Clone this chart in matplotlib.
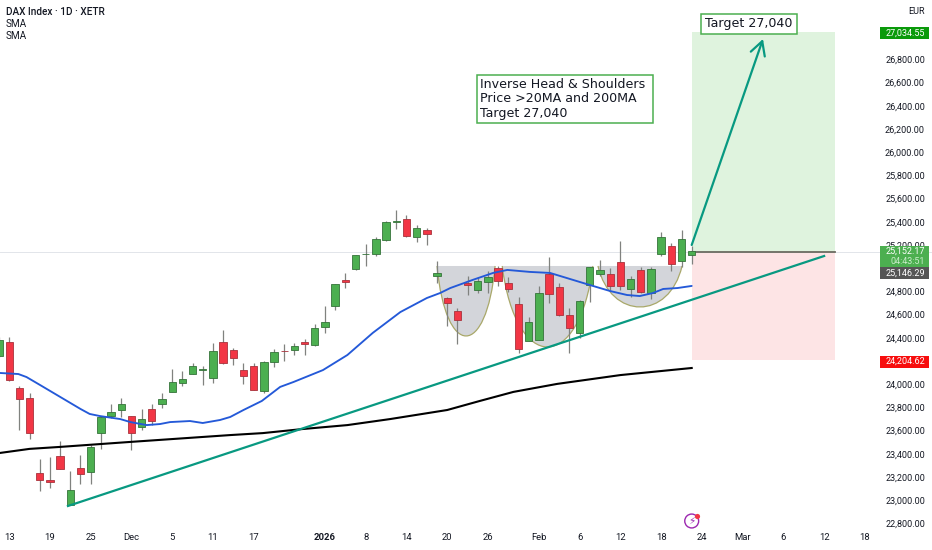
"""DAX daily candles with an inverse head and shoulders and a long position drawing."""

import matplotlib

matplotlib.use("Agg")
import matplotlib.pyplot as plt
import numpy as np
from matplotlib.patches import PathPatch, Rectangle
from matplotlib.path import Path
from matplotlib.transforms import Affine2D

OPEN = [24244, 24365, 23969, 23882, 23235, 23174, 23382, 22960, 23278, 23243,
        23579, 23726, 23778, 23726, 23631, 23787, 23830, 23934, 24012, 24088,
        24127, 24053, 24365, 24296, 24122, 24157, 23943, 24192, 24290, 24296,
        24365, 24339, 24494, 24674, 24899, 24994, 25118, 25122, 25243, 25402,
        25425, 25269, 25330, 24933, 24743, 24630, 24873, 24812, 24881, 25001,
        24873, 24691, 24374, 24382, 24951, 24838, 24596, 24443, 24855, 24951,
        24951, 25053, 24821, 24985, 24786, 25122, 25191, 25061, 25113]
HIGH = [24408, 24408, 23986, 23925, 23356, 23373, 23512, 23252, 23391, 23477,
        23726, 23830, 23882, 23726, 23787, 23830, 23925, 24131, 24114, 24183,
        24157, 24356, 24469, 24313, 24183, 24183, 24200, 24304, 24348, 24356,
        24391, 24517, 24674, 24864, 24959, 25113, 25208, 25269, 25408, 25503,
        25460, 25373, 25347, 25061, 24751, 24656, 24933, 24925, 24977, 25018,
        24925, 24751, 24578, 24847, 25096, 24873, 24656, 24726, 25009, 25070,
        25001, 25234, 24933, 25009, 25009, 25312, 25217, 25330, 25191]
LOW = [24235, 24027, 23605, 23527, 23079, 23105, 23269, 22960, 23139, 23139,
       23443, 23709, 23718, 23434, 23605, 23648, 23796, 23934, 23986, 24088,
       23995, 24012, 24175, 24166, 24003, 23951, 23925, 24148, 24200, 24252,
       24252, 24330, 24443, 24639, 24829, 24985, 25018, 25105, 25234, 25338,
       25269, 25226, 25200, 24873, 24500, 24348, 24769, 24786, 24786, 24847,
       24795, 24270, 24374, 24382, 24700, 24587, 24270, 24400, 24708, 24933,
       24812, 24812, 24751, 24786, 24734, 25105, 24977, 25009, 25035]
CLOSE = [24382, 24036, 23873, 23579, 23174, 23157, 23269, 23088, 23226, 23460,
         23718, 23761, 23830, 23579, 23700, 23683, 23873, 24019, 24045, 24157,
         24131, 24287, 24183, 24226, 24071, 23951, 24192, 24278, 24283, 24330,
         24348, 24486, 24535, 24864, 24881, 25113, 25122, 25252, 25399, 25408,
         25278, 25347, 25295, 24959, 24700, 24552, 24855, 24890, 24925, 24890,
         24821, 24304, 24535, 24786, 24777, 24596, 24486, 24717, 25009, 24985,
         24847, 24847, 24907, 24795, 24994, 25269, 25035, 25252, 25148]

SMA20_BAR = [0.1, 1.9, 2.7, 4.0, 6.0, 8.0, 8.9, 9.9, 11.9, 12.9, 14.5, 15.8, 16.8,
             18.75, 20.0, 21.7, 22.7, 24.0, 25.8, 27.6, 28.9, 31.8, 34.2, 36.7,
             39.4, 42.0, 43.3, 44.3, 46.5, 48.5, 49.9, 52.1, 54.1, 56.05, 58.0,
             60.0, 61.65, 62.9, 64.2, 65.2, 66.6, 68.0]
SMA20 = [24097, 24088, 24062, 23995, 23891, 23787, 23744, 23726, 23700, 23674,
         23648, 23657, 23674, 23683, 23666, 23692, 23718, 23778, 23856, 23977,
         24019, 24122, 24252, 24443, 24622, 24743, 24786, 24829, 24899, 24959,
         24985, 24968, 24959, 24907, 24855, 24803, 24769, 24760, 24786, 24821,
         24829, 24847]

SMA200_BAR = [0.1, 3.0, 6.0, 12.9, 22.7, 25.9, 29.8, 34.2, 38.4, 44.0, 47.2, 50.5,
              54.8, 61.0, 68.0]
SMA200 = [23408, 23443, 23460, 23503, 23562, 23579, 23614, 23648, 23700, 23778,
          23856, 23934, 24003, 24079, 24140]

TREND_BAR = [6.77, 81.0]
TREND_PRICE = [22951, 25105]
ARROW_BAR = [68.0, 75.0]
ARROW_PRICE = [25200, 26975]

# neckline price, then (start bar, lowest price, end bar) for each trough
NECKLINE = 25019
TROUGHS = [(43.0, 24416, 48.7), (49.4, 24321, 58.3), (58.8, 24666, 67.05)]

ZONE_BARS = (68.0, 82.06)
TARGET = 27034.55
ENTRY = 25140
STOP = 24204.62

PRICE_TICKS = [22800, 23000, 23200, 23400, 23600, 23800, 24000, 24200, 24400, 24600,
               24800, 25200, 25400, 25600, 25800, 26000, 26200, 26400, 26600, 26800]
DATE_BARS = [1, 5, 9, 13, 17, 21, 25, 32, 36, 40, 44, 48, 53, 57, 61, 65, 69, 73, 77, 81, 85]
DATE_LABELS = ["13", "19", "25", "Dec", "5", "11", "17", "2026", "8", "14", "20", "26",
               "Feb", "6", "12", "18", "24", "Mar", "6", "12", "18"]

UP = "#4caf50"
DOWN = "#f23645"
TEAL = "#089981"
BOX_GREEN = "#4caf50"
INK = "#131722"
AXIS_FONT = "Roboto"

plt.rcParams["font.family"] = ["DejaVu Sans"]

fig = plt.figure(figsize=(9.32, 5.5), dpi=100)
ax = fig.add_axes([0, 20 / 550, 1, 530 / 550])
ax.set_xlim(0.098, 91.59)
ax.set_ylim(22744, 27311)
for spine in ax.spines.values():
    spine.set_visible(False)

# pixel placement for the chart furniture that is not data
px = Affine2D().scale(1 / 932, -1 / 550).translate(0, 1) + fig.transFigure

# long position zones
ax.fill_between(ZONE_BARS, ENTRY, TARGET, color="#dff3de", lw=0, zorder=1)
ax.fill_between(ZONE_BARS, STOP, ENTRY, color="#fde4e5", lw=0, zorder=1)
ax.axhline(ENTRY, color="#e2e5ea", lw=0.7, zorder=1.2)
ax.plot(ZONE_BARS, [ENTRY, ENTRY], color="#6b6b60", lw=1.3, zorder=1.3)

# head and shoulders troughs, cubic so the bottoms stay round
for start, low, end in TROUGHS:
    span = end - start
    depth = NECKLINE - (NECKLINE - low) / 0.75
    verts = [(start, NECKLINE), (start + 0.15 * span, depth), (end - 0.15 * span, depth), (end, NECKLINE)]
    codes = [Path.MOVETO, Path.CURVE4, Path.CURVE4, Path.CURVE4]
    ax.add_patch(PathPatch(Path(verts, codes), fc="#d3d5da", ec="none", zorder=1.5))
    ax.add_patch(PathPatch(Path(verts, codes), fc="none", ec="#a9a86a", lw=0.9, zorder=1.6))

# candles
bars = np.arange(len(OPEN))
opens, closes = np.array(OPEN), np.array(CLOSE)
rising = closes >= opens
ax.vlines(bars, LOW, HIGH, color="#80827f", lw=0.9, zorder=2)
ax.bar(bars, np.abs(closes - opens), bottom=np.minimum(opens, closes), width=0.72,
       color=np.where(rising, UP, DOWN), edgecolor=np.where(rising, "#35733a", "#a8323c"),
       linewidth=0.6, zorder=3)

ax.plot(SMA20_BAR, SMA20, color="#2459d8", lw=1.35, zorder=4, solid_capstyle="round")
ax.plot(SMA200_BAR, SMA200, color="#000000", lw=1.5, zorder=4)
ax.plot(TREND_BAR, TREND_PRICE, color=TEAL, lw=1.6, zorder=5)
ax.annotate("", xy=(ARROW_BAR[1], ARROW_PRICE[1]), xytext=(ARROW_BAR[0], ARROW_PRICE[0]),
            arrowprops=dict(arrowstyle="->,head_length=0.7,head_width=0.38", color=TEAL,
                            lw=1.6, shrinkA=0, shrinkB=0, mutation_scale=14), zorder=5)

# axes
ax.set_xticks(DATE_BARS, DATE_LABELS, fontfamily=AXIS_FONT, fontsize=6.8, color=INK)
ax.tick_params(axis="x", length=0, pad=2.5)
for label in ax.get_xticklabels():
    if label.get_text() == "2026":
        label.set_fontweight("bold")
ax.yaxis.tick_right()
ax.set_yticks(PRICE_TICKS, [f"{p:,.2f}" for p in PRICE_TICKS],
              fontfamily=AXIS_FONT, fontsize=6.5, color=INK)
ax.tick_params(axis="y", length=0, pad=-5)
for label in ax.get_yticklabels():
    label.set_horizontalalignment("right")

# legend
fig.text(6, 12, "DAX Index · 1D · XETR", transform=px, family=AXIS_FONT, weight="medium",
         fontsize=7.2, color=INK, va="center")
fig.text(6, 24, "SMA", transform=px, family=AXIS_FONT, fontsize=7.2, color=INK, va="center")
fig.text(6, 36, "SMA", transform=px, family=AXIS_FONT, fontsize=7.2, color=INK, va="center")
ax.text(925, 11, "EUR", transform=px, family=AXIS_FONT, fontsize=6.5, color=INK,
        va="center", ha="right", zorder=8)

# price badges
badges = [
    (27, 12, "#0a9a0a", ["27,034.55"], [33]),
    (356, 11.5, "#f70d0d", ["24,204.62"], [361.5]),
    (246, 21, BOX_GREEN, ["25,152.17", "04:43:51"], [251.5, 261.5]),
    (267, 12, "#555555", ["25,146.29"], [273]),
]
for top, height, color, texts, rows in badges:
    ax.add_patch(Rectangle((880, top), 49, height, transform=px, fc=color, ec="none", zorder=7))
    for i, (text, row) in enumerate(zip(texts, rows)):
        ax.text(925, row, text, transform=px, family=AXIS_FONT, fontsize=6.5, va="center", ha="right",
                color="#c9ecca" if i else "white", zorder=8)

# text boxes
ax.add_patch(Rectangle((701, 13.5), 96, 20, transform=px, fc="white", ec=BOX_GREEN, lw=1.1, zorder=6))
ax.text(705, 23.5, "Target 27,040", transform=px, fontsize=9.1, color=INK, va="center", zorder=7)
ax.add_patch(Rectangle((477, 74.5), 176, 48.5, transform=px, fc="white", ec=BOX_GREEN, lw=1.1, zorder=6))
for row, line in zip([85, 99, 113], ["Inverse Head & Shoulders", "Price >20MA and 200MA", "Target 27,040"]):
    ax.text(480, row, line, transform=px, fontsize=9.1, color=INK, va="center", zorder=7)

# lightning badge under the last bars
ax.scatter([691.7], [521], s=100, transform=px, fc="none", ec="#9c27b0", lw=1.0, zorder=7)
ax.text(691.5, 521, "\u26a1", transform=px, fontsize=7.5, color="#9c27b0", ha="center", va="center", zorder=8)
ax.scatter([696.5], [516], s=14, transform=px, color="#f23645", lw=0, zorder=8)

fig.savefig("out.png", dpi=100)
plt.close(fig)
